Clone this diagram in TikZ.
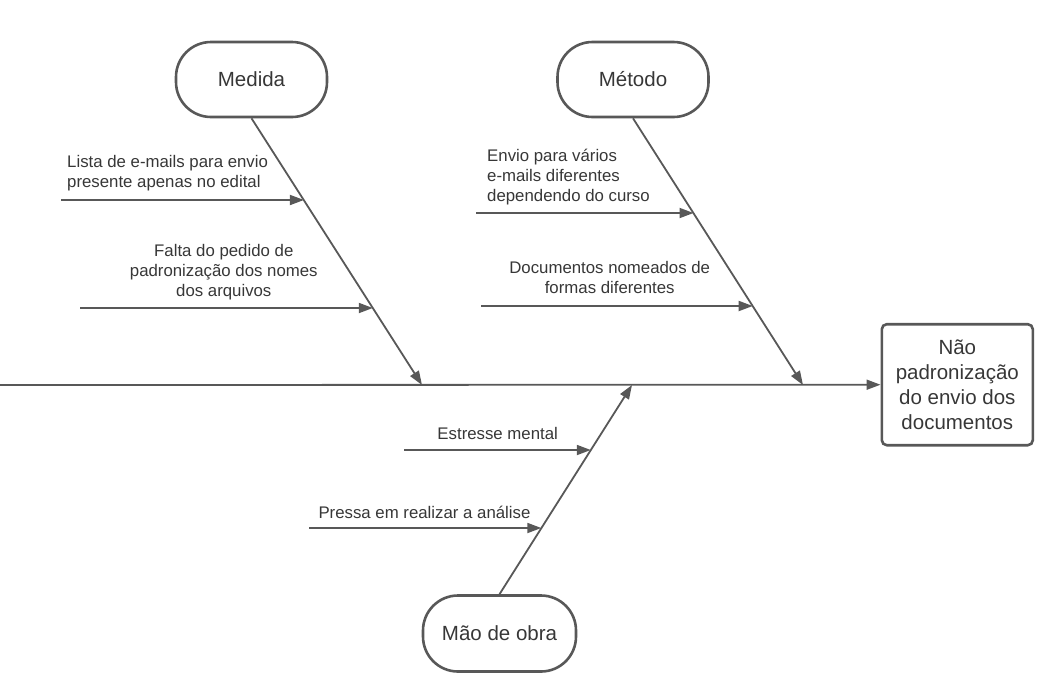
\documentclass[tikz,border=0pt]{standalone}
\usepackage{fontspec}
\setmainfont{Liberation Sans}
\usetikzlibrary{arrows.meta}
\definecolor{lc}{RGB}{88,88,88}
\definecolor{tc}{RGB}{55,55,55}
\begin{document}
\begin{tikzpicture}[x=1pt,y=-1pt,
  cat/.style={draw=lc, line width=2.6pt, rounded corners=35pt, minimum width=151pt, minimum height=75pt, inner sep=0pt, font=\fontsize{20.5}{24}\selectfont, text=tc},
  effbox/.style={draw=lc, line width=2.6pt, rounded corners=5pt, minimum width=151pt, minimum height=121pt, inner sep=0pt, align=center, font=\fontsize{20.5}{25}\selectfont, text=tc},
  bone/.style={draw=lc, line width=1.8pt, -{Triangle[length=14pt,width=10pt]}},
  lbl/.style={inner sep=0pt, font=\fontsize{16.8}{20}\selectfont, text=tc}]
\useasboundingbox (0,0) rectangle (1040,686);

% category boxes
\node[cat] (medida) at (251.5,79.5) {Medida};
\node[cat] (metodo) at (633,79.5) {Método};
\node[cat, minimum width=153pt, minimum height=76pt] (mao) at (499.5,633.5) {Mão de obra};
\node[effbox] (eff) at (957.3,384.7) {Não\\padronização\\do envio dos\\documentos};

% spine
\coordinate (s0) at (0,385);
\draw[bone] (s0) -- (eff.west);

% main bones
\coordinate (mt) at (422,385);
\coordinate (tt) at (803,385);
\coordinate (ot) at (632,385);
\draw[bone] (medida.south) -- (mt);
\draw[bone] (metodo.south) -- (tt);
\draw[bone] (mao.north) -- (ot);

% Medida causes
\coordinate (a1s) at (61,200);  \coordinate (a1e) at (303.9,200);
\coordinate (a2s) at (80,308);  \coordinate (a2e) at (372.8,308);
\draw[bone] (a1s) -- (a1e);
\draw[bone] (a2s) -- (a2e);
\node[lbl, align=left, anchor=west] (t1) at (67,173) {Lista de e-mails para envio\\presente apenas no edital};
\node[lbl, align=center] (t2) at (223.8,271.7) {Falta do pedido de\\padronização dos nomes\\dos arquivos};

% Metodo causes
\coordinate (b1s) at (476,213);  \coordinate (b1e) at (693.5,213);
\coordinate (b2s) at (481,306);  \coordinate (b2e) at (752.7,306);
\draw[bone] (b1s) -- (b1e);
\draw[bone] (b2s) -- (b2e);
\node[lbl, align=left, anchor=west] (t3) at (487,177) {Envio para vários\\e-mails diferentes\\dependendo do curso};
\node[lbl, align=center] (t4) at (609.7,277.5) {Documentos nomeados de\\formas diferentes};

% Mao de obra causes
\coordinate (c1s) at (404,450);  \coordinate (c1e) at (590.8,450);
\coordinate (c2s) at (309,528);  \coordinate (c2e) at (541.3,528);
\draw[bone] (c1s) -- (c1e);
\draw[bone] (c2s) -- (c2e);
\node[lbl] (t5) at (497.7,433.3) {Estresse mental};
\node[lbl] (t6) at (424.5,512.3) {Pressa em realizar a análise};
\end{tikzpicture}
\end{document}
